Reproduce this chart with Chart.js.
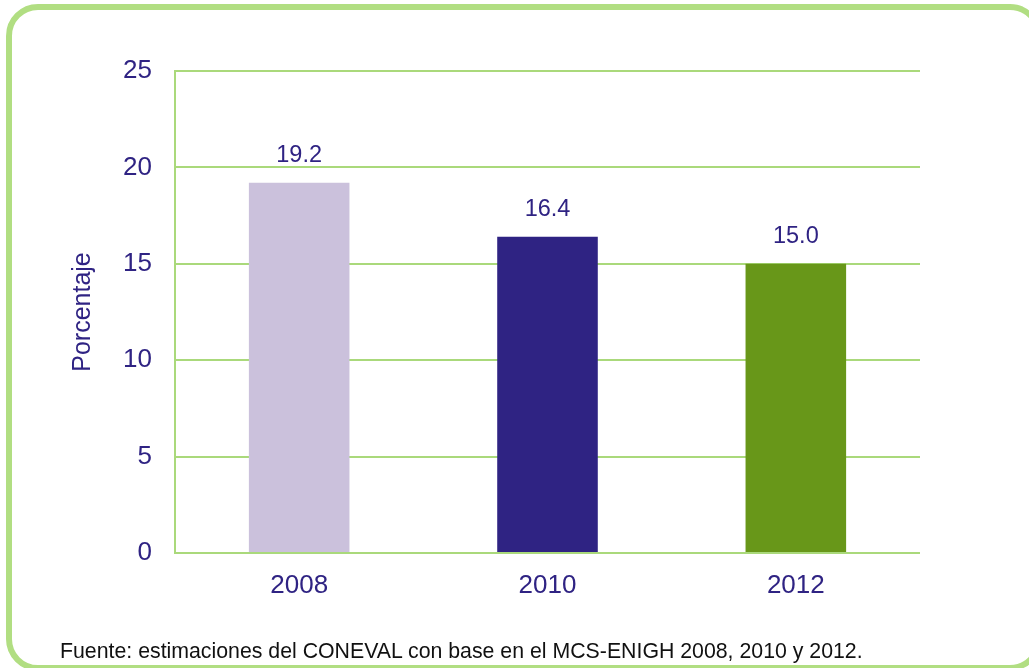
<!DOCTYPE html>
<html>
<head>
<meta charset="utf-8">
<script src="https://cdn.jsdelivr.net/npm/chart.js@4.4.1/dist/chart.umd.min.js"></script>
<style>
html,body{margin:0;padding:0;background:#fff;}
#wrap{position:relative;width:1029px;height:668px;overflow:hidden;}
#frame{position:absolute;left:6px;top:4px;width:1036px;height:667px;box-sizing:border-box;border:6px solid #b1de82;border-radius:32px;}
#src{position:absolute;left:60px;top:638px;font-family:"Liberation Sans",Arial,sans-serif;font-size:21.3px;line-height:26px;color:#111;white-space:nowrap;}
canvas{position:absolute;left:0;top:0;}
</style>
</head>
<body>
<div id="wrap">
<canvas id="c" width="1029" height="668"></canvas>
<div id="frame"></div>
<div id="src">Fuente: estimaciones del CONEVAL con base en el MCS-ENIGH 2008, 2010 y 2012.</div>
</div>
<script>
const categories = ["2008", "2010", "2012"];
const values = [19.2, 16.4, 15.0];
const valueLabels = ["19.2", "16.4", "15.0"];
const barColors = ["#cbc1dc", "#2f2383", "#689719"];
const yTicks = [0, 5, 10, 15, 20, 25];

const textColor = "#2f2383";
const gridColor = "#aad97b";
const fontFamily = '"Liberation Sans", Arial, sans-serif';

const labelPlugin = {
  id: "valueLabels",
  afterDatasetsDraw(chart) {
    const ctx = chart.ctx;
    const meta = chart.getDatasetMeta(0);
    ctx.save();
    ctx.fillStyle = textColor;
    ctx.font = '23.5px ' + fontFamily;
    ctx.textAlign = "center";
    ctx.textBaseline = "middle";
    meta.data.forEach((bar, i) => {
      ctx.fillText(valueLabels[i], bar.x, bar.y - 27);
    });
    ctx.restore();
  }
};

new Chart(document.getElementById("c"), {
  type: "bar",
  data: {
    labels: categories,
    datasets: [{
      data: values,
      backgroundColor: barColors,
      borderWidth: 0,
      barPercentage: 0.405,
      categoryPercentage: 1
    }]
  },
  options: {
    responsive: false,
    animation: false,
    events: [],
    layout: { padding: { left: 0, right: 109, top: 71, bottom: 55 } },
    plugins: { legend: { display: false }, tooltip: { enabled: false } },
    scales: {
      x: {
        grid: { display: false, drawTicks: false },
        border: { display: false },
        ticks: { color: textColor, font: { family: fontFamily, size: 26 }, padding: 17 },
        afterFit(s) { s.height = 60; }
      },
      y: {
        min: 0, max: 25,
        afterBuildTicks(s) { s.ticks = yTicks.map(v => ({ value: v })); },
        grid: { color: gridColor, lineWidth: 2, drawTicks: false },
        border: { display: true, color: gridColor, width: 2 },
        ticks: { color: textColor, font: { family: fontFamily, size: 26 }, padding: 23 },
        title: { display: true, text: "Porcentaje", color: textColor, font: { family: fontFamily, size: 25 }, padding: { top: 68, bottom: 0 } },
        afterFit(s) { s.width = 175; }
      }
    }
  },
  plugins: [labelPlugin]
});
</script>
</body>
</html>
